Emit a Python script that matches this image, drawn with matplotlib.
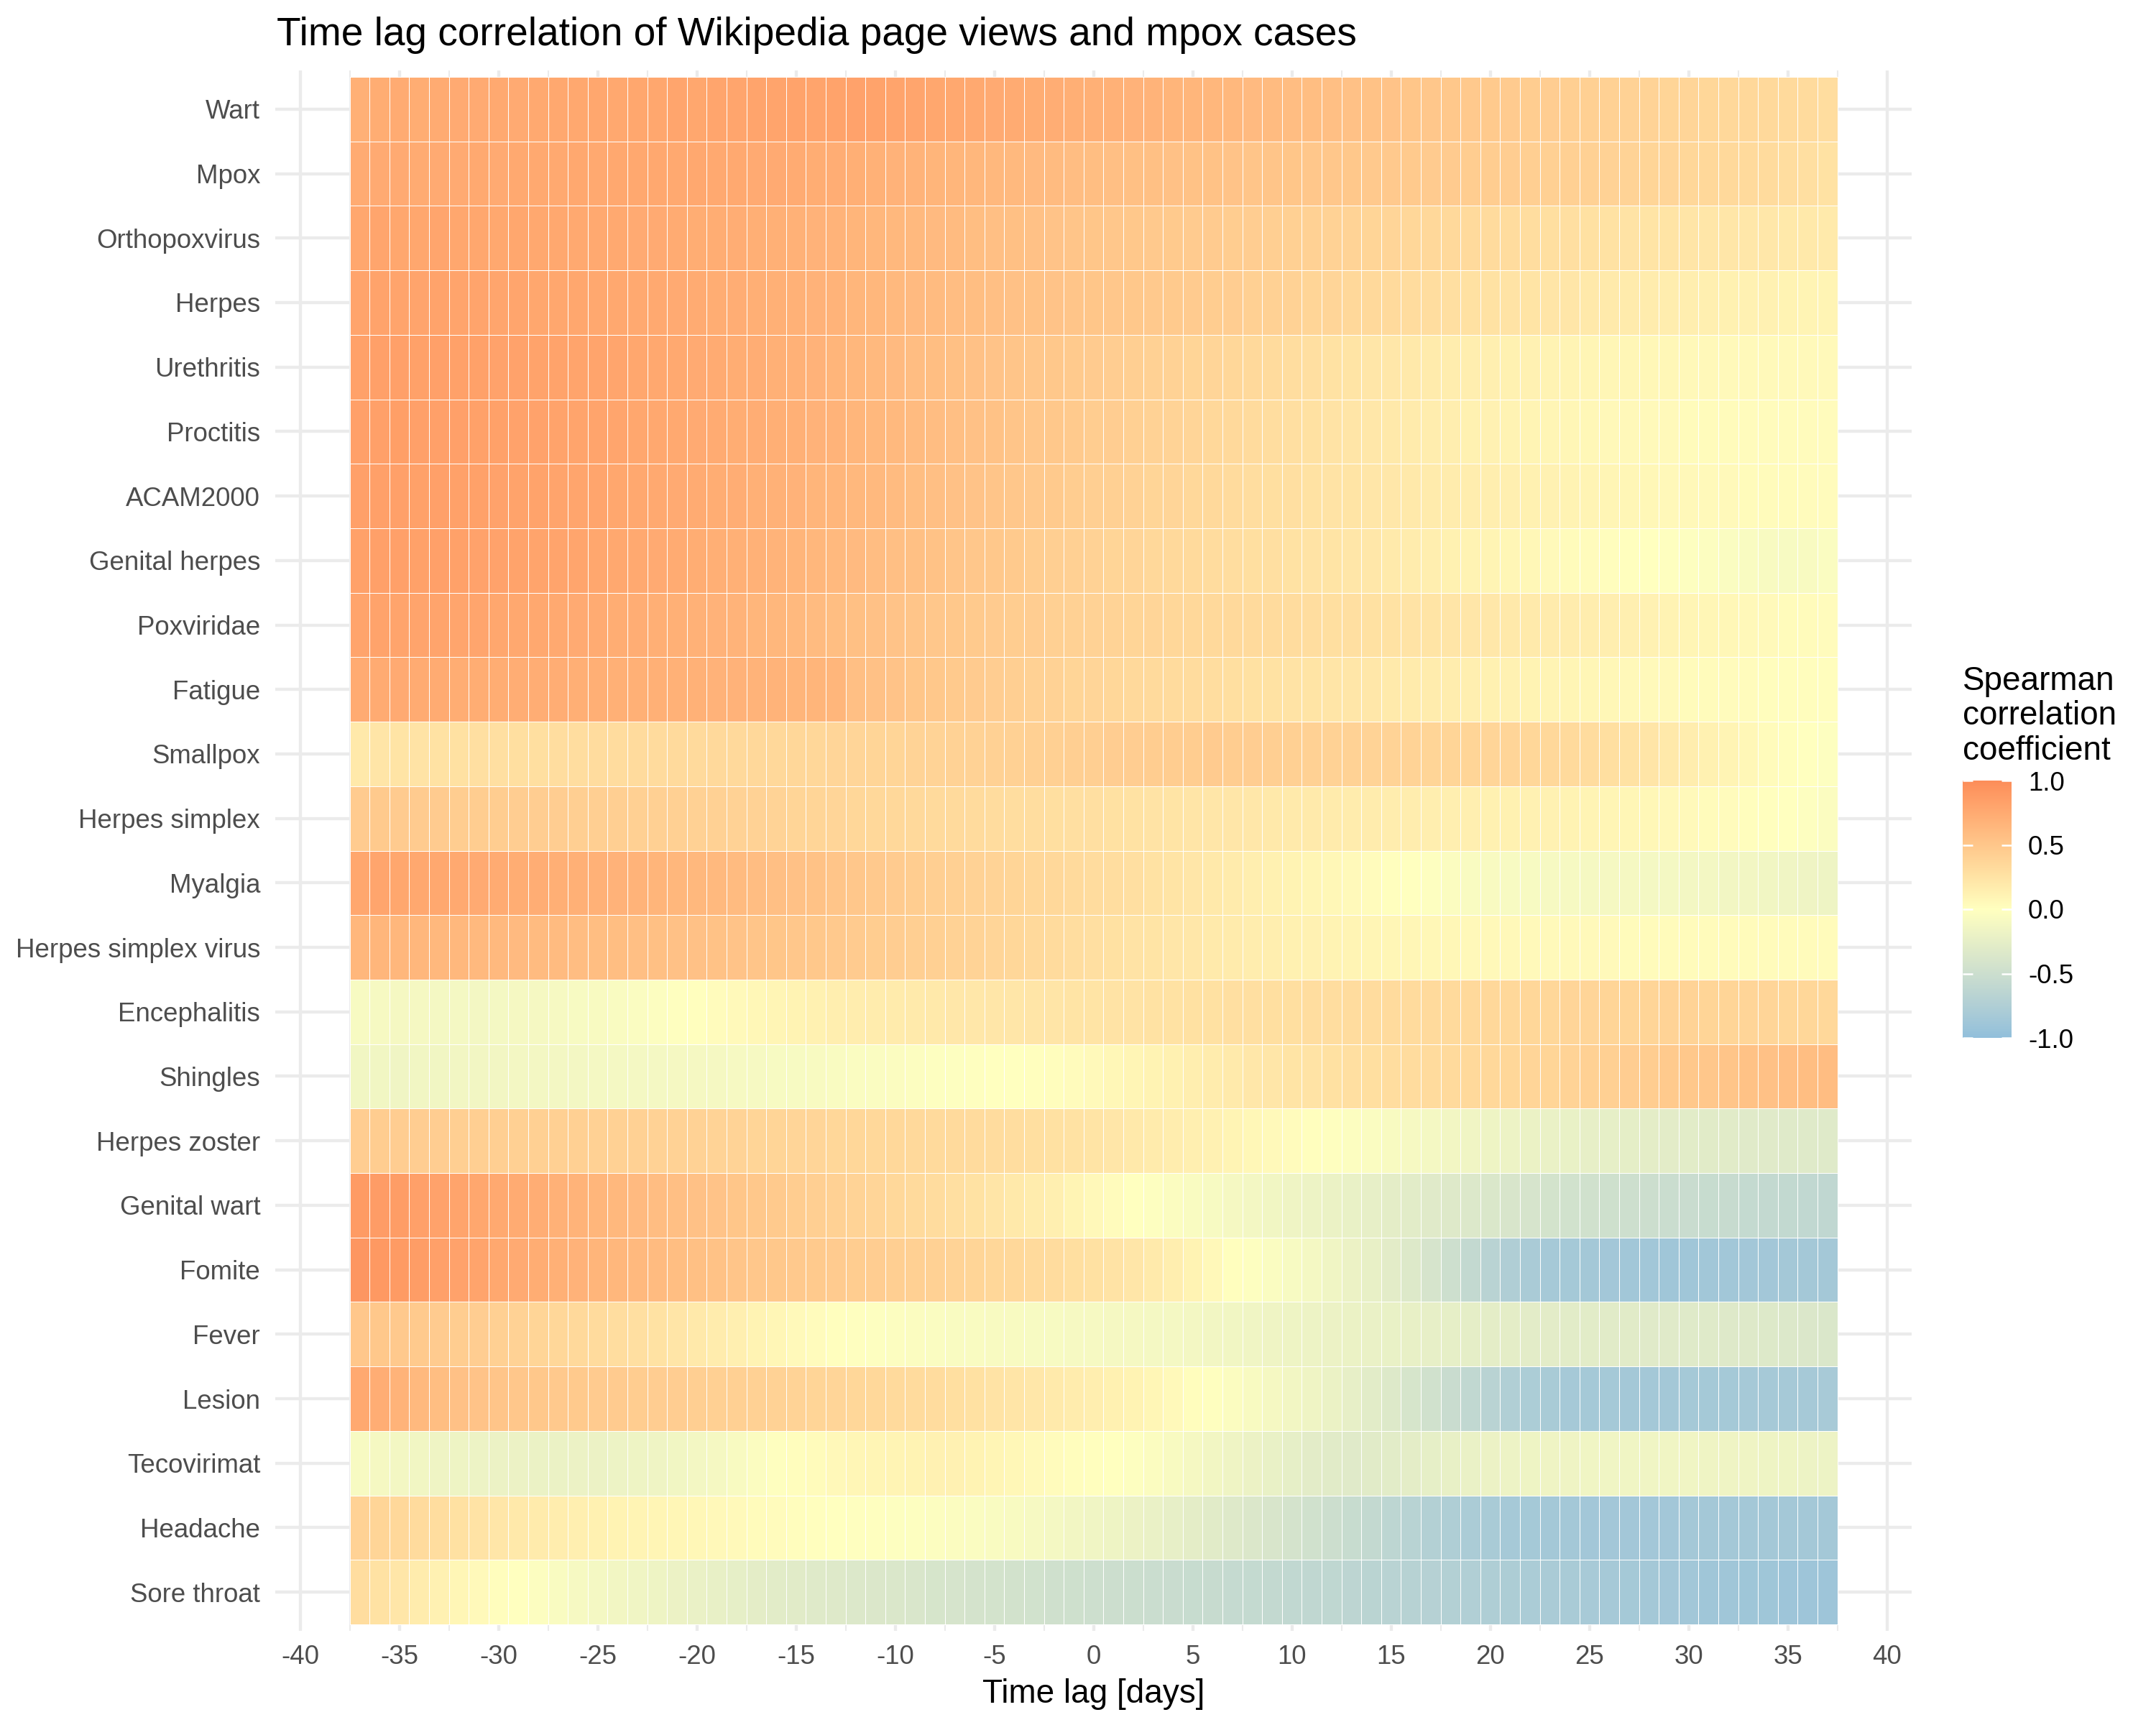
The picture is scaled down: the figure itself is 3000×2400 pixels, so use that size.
import numpy as np
import matplotlib
matplotlib.use("Agg")
import matplotlib.pyplot as plt
from matplotlib.colors import ListedColormap, Normalize

plt.rcParams['font.family'] = ['Liberation Sans', 'DejaVu Sans']

# ---------------- data ----------------
lags = list(range(-37, 38))
x_ticks = [-40, -35, -30, -25, -20, -15, -10, -5, 0, 5, 10, 15, 20, 25, 30, 35, 40]
x_tick_labels = ["-40", "-35", "-30", "-25", "-20", "-15", "-10", "-5", "0", "5",
                 "10", "15", "20", "25", "30", "35", "40"]

pages = ["Wart", "Mpox", "Orthopoxvirus", "Herpes", "Urethritis", "Proctitis",
         "ACAM2000", "Genital herpes", "Poxviridae", "Fatigue", "Smallpox",
         "Herpes simplex", "Myalgia", "Herpes simplex virus", "Encephalitis",
         "Shingles", "Herpes zoster", "Genital wart", "Fomite", "Fever", "Lesion",
         "Tecovirimat", "Headache", "Sore throat"]

wart = [0.70, 0.73, 0.74, 0.73, 0.74, 0.75, 0.75, 0.76, 0.75, 0.76, 0.77, 0.77, 0.78, 0.77, 0.78,
        0.78, 0.79, 0.78, 0.79, 0.79, 0.80, 0.80, 0.81, 0.80, 0.81, 0.82, 0.81, 0.80, 0.79, 0.78,
        0.77, 0.76, 0.75, 0.74, 0.73, 0.72, 0.71, 0.70, 0.69, 0.68, 0.67, 0.66, 0.65, 0.64, 0.63,
        0.61, 0.60, 0.59, 0.58, 0.57, 0.55, 0.54, 0.53, 0.51, 0.50, 0.49, 0.48, 0.47, 0.46, 0.45,
        0.44, 0.43, 0.42, 0.41, 0.40, 0.39, 0.38, 0.37, 0.36, 0.35, 0.35, 0.34, 0.33, 0.32, 0.30]
mpox = [0.74, 0.75, 0.75, 0.74, 0.75, 0.75, 0.76, 0.75, 0.76, 0.76, 0.76, 0.77, 0.76, 0.77, 0.77,
        0.77, 0.76, 0.77, 0.76, 0.76, 0.75, 0.75, 0.74, 0.73, 0.72, 0.71, 0.69, 0.68, 0.67, 0.66,
        0.65, 0.64, 0.63, 0.62, 0.61, 0.60, 0.59, 0.58, 0.57, 0.56, 0.56, 0.55, 0.54, 0.54, 0.53,
        0.52, 0.52, 0.51, 0.50, 0.50, 0.49, 0.48, 0.48, 0.47, 0.46, 0.46, 0.45, 0.45, 0.44, 0.43,
        0.42, 0.42, 0.41, 0.40, 0.39, 0.38, 0.37, 0.36, 0.35, 0.34, 0.33, 0.32, 0.30, 0.28, 0.26]
orthopoxvirus = [0.78, 0.79, 0.78, 0.78, 0.79, 0.78, 0.78, 0.77, 0.78, 0.77, 0.77, 0.76, 0.76, 0.76, 0.75,
                 0.75, 0.74, 0.73, 0.73, 0.72, 0.71, 0.70, 0.69, 0.68, 0.67, 0.66, 0.64, 0.63, 0.62, 0.61,
                 0.60, 0.58, 0.57, 0.56, 0.55, 0.53, 0.52, 0.51, 0.50, 0.49, 0.48, 0.47, 0.46, 0.46, 0.45,
                 0.44, 0.43, 0.42, 0.41, 0.40, 0.39, 0.38, 0.37, 0.36, 0.35, 0.34, 0.33, 0.32, 0.31, 0.30,
                 0.29, 0.28, 0.27, 0.26, 0.25, 0.24, 0.24, 0.23, 0.22, 0.22, 0.21, 0.21, 0.20, 0.20, 0.19]
herpes = [0.80, 0.81, 0.80, 0.80, 0.81, 0.80, 0.80, 0.79, 0.79, 0.78, 0.78, 0.78, 0.77, 0.77, 0.76,
          0.76, 0.75, 0.74, 0.73, 0.72, 0.71, 0.70, 0.69, 0.68, 0.67, 0.65, 0.64, 0.62, 0.61, 0.60,
          0.59, 0.58, 0.57, 0.55, 0.54, 0.53, 0.52, 0.51, 0.50, 0.49, 0.48, 0.47, 0.46, 0.45, 0.44,
          0.42, 0.41, 0.40, 0.38, 0.37, 0.35, 0.34, 0.33, 0.31, 0.30, 0.28, 0.27, 0.26, 0.25, 0.24,
          0.23, 0.22, 0.20, 0.19, 0.18, 0.17, 0.16, 0.15, 0.14, 0.13, 0.12, 0.12, 0.11, 0.10, 0.10]
urethritis = [0.83, 0.84, 0.84, 0.83, 0.84, 0.83, 0.83, 0.82, 0.82, 0.81, 0.81, 0.80, 0.80, 0.79, 0.78,
              0.77, 0.76, 0.75, 0.74, 0.73, 0.72, 0.70, 0.69, 0.68, 0.66, 0.64, 0.62, 0.61, 0.59, 0.58,
              0.56, 0.55, 0.53, 0.52, 0.50, 0.49, 0.47, 0.46, 0.44, 0.43, 0.41, 0.40, 0.38, 0.37, 0.36,
              0.34, 0.32, 0.30, 0.28, 0.26, 0.24, 0.22, 0.21, 0.20, 0.18, 0.16, 0.15, 0.14, 0.13, 0.12,
              0.11, 0.10, 0.09, 0.08, 0.08, 0.07, 0.07, 0.06, 0.06, 0.05, 0.05, 0.05, 0.05, 0.05, 0.05]
proctitis = [0.84, 0.84, 0.85, 0.84, 0.84, 0.84, 0.83, 0.83, 0.82, 0.82, 0.81, 0.80, 0.80, 0.79, 0.78,
             0.77, 0.76, 0.75, 0.74, 0.73, 0.72, 0.71, 0.70, 0.68, 0.67, 0.65, 0.63, 0.62, 0.60, 0.59,
             0.57, 0.55, 0.54, 0.52, 0.50, 0.49, 0.47, 0.45, 0.44, 0.42, 0.40, 0.39, 0.37, 0.35, 0.34,
             0.32, 0.30, 0.28, 0.27, 0.25, 0.23, 0.21, 0.20, 0.18, 0.16, 0.15, 0.13, 0.12, 0.11, 0.10,
             0.09, 0.08, 0.07, 0.06, 0.06, 0.05, 0.05, 0.04, 0.04, 0.04, 0.03, 0.03, 0.03, 0.03, 0.03]
acam2000 = [0.84, 0.84, 0.84, 0.83, 0.84, 0.83, 0.83, 0.82, 0.81, 0.81, 0.80, 0.79, 0.79, 0.78, 0.77,
            0.76, 0.75, 0.74, 0.73, 0.72, 0.70, 0.69, 0.68, 0.66, 0.65, 0.63, 0.62, 0.60, 0.58, 0.57,
            0.55, 0.53, 0.52, 0.50, 0.48, 0.47, 0.45, 0.43, 0.42, 0.40, 0.38, 0.37, 0.35, 0.34, 0.32,
            0.30, 0.29, 0.28, 0.26, 0.25, 0.24, 0.22, 0.21, 0.20, 0.18, 0.17, 0.16, 0.15, 0.14, 0.13,
            0.12, 0.11, 0.10, 0.09, 0.08, 0.07, 0.06, 0.06, 0.05, 0.05, 0.04, 0.04, 0.04, 0.03, 0.03]
genital_herpes = [0.83, 0.84, 0.84, 0.83, 0.84, 0.83, 0.82, 0.82, 0.81, 0.80, 0.80, 0.79, 0.78, 0.77, 0.76,
                  0.75, 0.74, 0.73, 0.71, 0.70, 0.69, 0.67, 0.66, 0.64, 0.62, 0.61, 0.59, 0.57, 0.56, 0.54,
                  0.52, 0.50, 0.49, 0.47, 0.45, 0.43, 0.42, 0.40, 0.38, 0.37, 0.35, 0.34, 0.33, 0.31, 0.30,
                  0.29, 0.28, 0.26, 0.25, 0.24, 0.22, 0.21, 0.19, 0.17, 0.15, 0.13, 0.11, 0.10, 0.08, 0.07,
                  0.05, 0.04, 0.03, 0.02, 0.01, 0.00, -0.01, -0.02, -0.03, -0.05, -0.06, -0.07, -0.08, -0.07, -0.05]
poxviridae = [0.80, 0.81, 0.80, 0.80, 0.80, 0.79, 0.79, 0.78, 0.77, 0.77, 0.76, 0.75, 0.74, 0.73, 0.72,
              0.71, 0.70, 0.69, 0.68, 0.67, 0.65, 0.64, 0.62, 0.60, 0.58, 0.56, 0.55, 0.53, 0.52, 0.50,
              0.49, 0.47, 0.46, 0.45, 0.44, 0.42, 0.41, 0.40, 0.39, 0.38, 0.37, 0.36, 0.35, 0.34, 0.34,
              0.33, 0.32, 0.31, 0.30, 0.29, 0.28, 0.27, 0.26, 0.25, 0.24, 0.23, 0.22, 0.21, 0.20, 0.19,
              0.18, 0.17, 0.16, 0.15, 0.14, 0.12, 0.11, 0.09, 0.08, 0.07, 0.06, 0.05, 0.04, 0.04, 0.03]
fatigue = [0.74, 0.74, 0.75, 0.74, 0.74, 0.73, 0.73, 0.73, 0.72, 0.72, 0.72, 0.71, 0.71, 0.70, 0.70,
           0.70, 0.69, 0.69, 0.68, 0.68, 0.67, 0.67, 0.66, 0.66, 0.65, 0.57, 0.55, 0.53, 0.51, 0.49,
           0.47, 0.46, 0.44, 0.43, 0.41, 0.40, 0.38, 0.37, 0.36, 0.34, 0.33, 0.32, 0.31, 0.30, 0.29,
           0.27, 0.26, 0.25, 0.24, 0.23, 0.22, 0.21, 0.19, 0.18, 0.17, 0.16, 0.14, 0.13, 0.12, 0.11,
           0.10, 0.09, 0.08, 0.07, 0.06, 0.05, 0.05, 0.04, 0.04, 0.03, 0.03, 0.02, 0.02, 0.02, 0.02]
smallpox = [0.20, 0.23, 0.24, 0.25, 0.26, 0.27, 0.28, 0.28, 0.29, 0.29, 0.30, 0.30, 0.31, 0.31, 0.32,
            0.32, 0.33, 0.33, 0.34, 0.34, 0.35, 0.35, 0.36, 0.36, 0.37, 0.37, 0.38, 0.38, 0.39, 0.39,
            0.40, 0.40, 0.41, 0.41, 0.42, 0.42, 0.43, 0.43, 0.44, 0.44, 0.45, 0.45, 0.45, 0.46, 0.45,
            0.44, 0.43, 0.42, 0.41, 0.40, 0.40, 0.39, 0.39, 0.39, 0.38, 0.38, 0.38, 0.37, 0.37, 0.36,
            0.35, 0.33, 0.31, 0.29, 0.26, 0.23, 0.20, 0.16, 0.13, 0.10, 0.07, 0.04, 0.02, 0.00, -0.02]
herpes_simplex = [0.46, 0.47, 0.46, 0.46, 0.46, 0.45, 0.45, 0.45, 0.44, 0.44, 0.44, 0.43, 0.43, 0.43, 0.42,
                  0.42, 0.42, 0.41, 0.41, 0.40, 0.40, 0.39, 0.38, 0.38, 0.37, 0.36, 0.35, 0.35, 0.34, 0.33,
                  0.33, 0.32, 0.31, 0.30, 0.30, 0.29, 0.28, 0.28, 0.27, 0.26, 0.25, 0.24, 0.23, 0.22, 0.22,
                  0.21, 0.20, 0.19, 0.19, 0.18, 0.17, 0.17, 0.16, 0.16, 0.15, 0.14, 0.14, 0.13, 0.13, 0.12,
                  0.12, 0.11, 0.10, 0.09, 0.08, 0.07, 0.06, 0.05, 0.04, 0.03, 0.02, 0.01, 0.00, -0.02, -0.04]
myalgia = [0.78, 0.79, 0.78, 0.77, 0.77, 0.76, 0.75, 0.74, 0.73, 0.72, 0.71, 0.70, 0.69, 0.68, 0.67,
           0.66, 0.64, 0.63, 0.62, 0.60, 0.59, 0.57, 0.55, 0.54, 0.52, 0.50, 0.48, 0.46, 0.45, 0.43,
           0.42, 0.40, 0.39, 0.38, 0.36, 0.35, 0.33, 0.31, 0.30, 0.28, 0.26, 0.24, 0.22, 0.20, 0.18,
           0.15, 0.13, 0.11, 0.09, 0.07, 0.05, 0.03, 0.01, 0.00, -0.02, -0.04, -0.06, -0.07, -0.08, -0.08,
           -0.09, -0.09, -0.10, -0.10, -0.10, -0.11, -0.11, -0.12, -0.12, -0.13, -0.13, -0.14, -0.15, -0.16, -0.17]
herpes_simplex_virus = [0.64, 0.65, 0.64, 0.64, 0.63, 0.63, 0.62, 0.62, 0.61, 0.60, 0.60, 0.59, 0.58, 0.58, 0.57,
                        0.56, 0.55, 0.55, 0.54, 0.53, 0.52, 0.51, 0.50, 0.49, 0.48, 0.46, 0.45, 0.44, 0.43, 0.42,
                        0.40, 0.39, 0.37, 0.36, 0.34, 0.32, 0.30, 0.28, 0.27, 0.25, 0.24, 0.22, 0.21, 0.19, 0.18,
                        0.16, 0.15, 0.13, 0.12, 0.11, 0.10, 0.09, 0.08, 0.08, 0.07, 0.07, 0.06, 0.06, 0.06, 0.05,
                        0.05, 0.05, 0.05, 0.05, 0.04, 0.04, 0.04, 0.04, 0.04, 0.04, 0.04, 0.04, 0.04, 0.04, 0.04]
encephalitis = [-0.08, -0.09, -0.10, -0.10, -0.11, -0.11, -0.12, -0.11, -0.10, -0.10, -0.09, -0.08, -0.07, -0.06, -0.05,
                -0.03, -0.01, 0.01, 0.03, 0.05, 0.07, 0.09, 0.11, 0.13, 0.15, 0.16, 0.17, 0.18, 0.19, 0.20,
                0.21, 0.21, 0.22, 0.22, 0.23, 0.23, 0.24, 0.24, 0.25, 0.25, 0.26, 0.26, 0.27, 0.27, 0.28,
                0.28, 0.29, 0.29, 0.30, 0.30, 0.31, 0.31, 0.32, 0.32, 0.33, 0.33, 0.34, 0.35, 0.35, 0.36,
                0.36, 0.37, 0.37, 0.38, 0.38, 0.38, 0.39, 0.39, 0.38, 0.38, 0.37, 0.37, 0.36, 0.36, 0.35]
shingles = [-0.14, -0.14, -0.15, -0.14, -0.14, -0.13, -0.13, -0.13, -0.12, -0.12, -0.12, -0.12, -0.11, -0.11, -0.11,
            -0.11, -0.10, -0.10, -0.10, -0.09, -0.09, -0.08, -0.08, -0.07, -0.06, -0.05, -0.05, -0.04, -0.03, -0.02,
            -0.02, -0.01, 0.00, 0.00, 0.01, 0.02, 0.03, 0.05, 0.07, 0.09, 0.11, 0.13, 0.15, 0.17, 0.19,
            0.21, 0.22, 0.24, 0.25, 0.27, 0.28, 0.29, 0.30, 0.31, 0.32, 0.33, 0.34, 0.35, 0.36, 0.37,
            0.38, 0.39, 0.41, 0.42, 0.44, 0.45, 0.47, 0.49, 0.50, 0.52, 0.54, 0.55, 0.57, 0.58, 0.59]
herpes_zoster = [0.44, 0.45, 0.44, 0.44, 0.44, 0.43, 0.43, 0.43, 0.42, 0.42, 0.42, 0.42, 0.41, 0.41, 0.41,
                 0.40, 0.40, 0.40, 0.39, 0.39, 0.38, 0.38, 0.37, 0.37, 0.36, 0.36, 0.35, 0.35, 0.34, 0.33,
                 0.33, 0.32, 0.31, 0.30, 0.29, 0.27, 0.26, 0.24, 0.22, 0.20, 0.18, 0.16, 0.14, 0.12, 0.10,
                 0.07, 0.05, 0.03, 0.01, -0.01, -0.03, -0.05, -0.07, -0.09, -0.11, -0.13, -0.15, -0.17, -0.18, -0.20,
                 -0.21, -0.22, -0.24, -0.25, -0.26, -0.27, -0.28, -0.29, -0.30, -0.30, -0.31, -0.31, -0.32, -0.32, -0.32]
genital_wart = [0.88, 0.87, 0.86, 0.84, 0.82, 0.80, 0.78, 0.76, 0.74, 0.72, 0.69, 0.67, 0.65, 0.63, 0.61,
                0.59, 0.57, 0.55, 0.53, 0.51, 0.49, 0.47, 0.45, 0.43, 0.41, 0.39, 0.37, 0.35, 0.33, 0.31,
                0.28, 0.26, 0.23, 0.20, 0.17, 0.14, 0.10, 0.06, 0.03, 0.00, -0.02, -0.04, -0.06, -0.08, -0.10,
                -0.12, -0.14, -0.16, -0.18, -0.20, -0.22, -0.24, -0.27, -0.29, -0.31, -0.33, -0.35, -0.37, -0.39, -0.41,
                -0.43, -0.45, -0.46, -0.48, -0.49, -0.50, -0.52, -0.53, -0.54, -0.55, -0.57, -0.58, -0.59, -0.60, -0.61]
fomite = [0.92, 0.90, 0.88, 0.86, 0.84, 0.82, 0.80, 0.77, 0.75, 0.73, 0.70, 0.68, 0.66, 0.64, 0.62,
          0.60, 0.58, 0.56, 0.54, 0.52, 0.50, 0.49, 0.48, 0.47, 0.46, 0.45, 0.44, 0.43, 0.42, 0.41,
          0.39, 0.38, 0.36, 0.35, 0.33, 0.31, 0.29, 0.27, 0.25, 0.22, 0.19, 0.15, 0.11, 0.06, 0.01,
          -0.02, -0.05, -0.08, -0.11, -0.15, -0.19, -0.23, -0.28, -0.34, -0.41, -0.49, -0.58, -0.67, -0.75, -0.80,
          -0.83, -0.84, -0.85, -0.86, -0.87, -0.87, -0.88, -0.88, -0.87, -0.87, -0.86, -0.86, -0.85, -0.85, -0.85]
fever = [0.50, 0.49, 0.48, 0.47, 0.46, 0.45, 0.44, 0.42, 0.40, 0.38, 0.36, 0.34, 0.32, 0.30, 0.28,
         0.26, 0.23, 0.20, 0.17, 0.14, 0.11, 0.08, 0.05, 0.03, 0.01, -0.01, -0.02, -0.03, -0.04, -0.05,
         -0.06, -0.06, -0.07, -0.07, -0.08, -0.08, -0.09, -0.09, -0.10, -0.10, -0.11, -0.11, -0.12, -0.13, -0.14,
         -0.15, -0.16, -0.17, -0.18, -0.19, -0.20, -0.21, -0.22, -0.23, -0.24, -0.25, -0.26, -0.27, -0.27, -0.28,
         -0.28, -0.29, -0.29, -0.30, -0.30, -0.31, -0.31, -0.32, -0.32, -0.33, -0.33, -0.34, -0.35, -0.36, -0.37]
lesion = [0.76, 0.72, 0.67, 0.62, 0.58, 0.55, 0.53, 0.52, 0.50, 0.49, 0.48, 0.47, 0.46, 0.46, 0.45,
          0.44, 0.44, 0.43, 0.42, 0.42, 0.41, 0.40, 0.39, 0.38, 0.37, 0.36, 0.35, 0.33, 0.32, 0.31,
          0.29, 0.27, 0.25, 0.23, 0.21, 0.19, 0.17, 0.15, 0.13, 0.11, 0.08, 0.05, 0.02, -0.01, -0.04,
          -0.07, -0.10, -0.13, -0.16, -0.20, -0.24, -0.29, -0.34, -0.40, -0.46, -0.53, -0.60, -0.67, -0.74, -0.78,
          -0.81, -0.83, -0.84, -0.84, -0.85, -0.85, -0.85, -0.84, -0.84, -0.84, -0.83, -0.83, -0.83, -0.83, -0.82]
tecovirimat = [-0.08, -0.10, -0.12, -0.14, -0.16, -0.17, -0.18, -0.19, -0.19, -0.20, -0.20, -0.19, -0.19, -0.18, -0.17,
               -0.16, -0.14, -0.12, -0.10, -0.07, -0.04, -0.01, 0.02, 0.04, 0.06, 0.08, 0.09, 0.10, 0.11, 0.12,
               0.12, 0.11, 0.09, 0.07, 0.05, 0.03, 0.02, 0.01, 0.00, -0.02, -0.04, -0.07, -0.10, -0.13, -0.16,
               -0.19, -0.22, -0.25, -0.28, -0.30, -0.31, -0.30, -0.29, -0.27, -0.25, -0.23, -0.21, -0.19, -0.18, -0.17,
               -0.16, -0.16, -0.15, -0.15, -0.15, -0.15, -0.15, -0.15, -0.16, -0.16, -0.16, -0.17, -0.17, -0.18, -0.18]
headache = [0.40, 0.38, 0.35, 0.32, 0.30, 0.27, 0.25, 0.22, 0.20, 0.18, 0.16, 0.14, 0.13, 0.11, 0.10,
            0.09, 0.08, 0.07, 0.06, 0.05, 0.04, 0.03, 0.02, 0.01, 0.00, -0.01, -0.01, -0.02, -0.02, -0.03,
            -0.04, -0.05, -0.06, -0.07, -0.09, -0.11, -0.13, -0.15, -0.17, -0.19, -0.21, -0.24, -0.27, -0.30, -0.33,
            -0.36, -0.39, -0.42, -0.46, -0.50, -0.54, -0.58, -0.63, -0.68, -0.72, -0.76, -0.79, -0.81, -0.83, -0.84,
            -0.85, -0.85, -0.86, -0.86, -0.86, -0.86, -0.86, -0.85, -0.85, -0.85, -0.85, -0.85, -0.85, -0.85, -0.85]
sore_throat = [0.30, 0.26, 0.22, 0.17, 0.12, 0.08, 0.05, 0.02, 0.00, -0.03, -0.06, -0.09, -0.11, -0.13, -0.15,
               -0.17, -0.19, -0.21, -0.23, -0.25, -0.27, -0.29, -0.30, -0.32, -0.33, -0.35, -0.36, -0.37, -0.38, -0.40,
               -0.41, -0.42, -0.43, -0.44, -0.45, -0.47, -0.48, -0.49, -0.50, -0.51, -0.52, -0.53, -0.54, -0.55, -0.56,
               -0.57, -0.58, -0.60, -0.61, -0.62, -0.64, -0.66, -0.67, -0.69, -0.70, -0.72, -0.74, -0.76, -0.77, -0.79,
               -0.80, -0.81, -0.82, -0.83, -0.84, -0.85, -0.86, -0.87, -0.88, -0.88, -0.89, -0.89, -0.90, -0.90, -0.90]

series = [wart, mpox, orthopoxvirus, herpes, urethritis, proctitis, acam2000,
          genital_herpes, poxviridae, fatigue, smallpox, herpes_simplex, myalgia,
          herpes_simplex_virus, encephalitis, shingles, herpes_zoster, genital_wart,
          fomite, fever, lesion, tecovirimat, headache, sore_throat]

legend_breaks = [-1.0, -0.5, 0.0, 0.5, 1.0]
legend_labels = ["-1.0", "-0.5", "0.0", "0.5", "1.0"]

# ---------------- colour scale (Lab interpolation like ggplot gradient2) ----------------
LOW, MID, HIGH = "#91bfdb", "#ffffbf", "#fc8d59"
_M = np.array([[0.4124564, 0.3575761, 0.1804375],
               [0.2126729, 0.7151522, 0.0721750],
               [0.0193339, 0.1191920, 0.9503041]])
_W = np.array([0.95047, 1.0, 1.08883])


def hex2rgb(h):
    h = h.lstrip('#')
    return np.array([int(h[i:i + 2], 16) / 255 for i in (0, 2, 4)])


def rgb2lab(rgb):
    lin = np.where(rgb <= 0.04045, rgb / 12.92, ((rgb + 0.055) / 1.055) ** 2.4)
    xyz = _M @ lin / _W
    d = 6 / 29
    f = np.where(xyz > d ** 3, np.cbrt(xyz), xyz / (3 * d * d) + 4 / 29)
    return np.array([116 * f[1] - 16, 500 * (f[0] - f[1]), 200 * (f[1] - f[2])])


def lab2rgb(lab):
    L, a, b = lab
    fy = (L + 16) / 116
    fx = fy + a / 500
    fz = fy - b / 200
    d = 6 / 29
    f = np.array([fx, fy, fz])
    xyz = np.where(f > d, f ** 3, 3 * d * d * (f - 4 / 29)) * _W
    lin = np.linalg.solve(_M, xyz)
    lin = np.clip(lin, 0, 1)
    rgb = np.where(lin <= 0.0031308, 12.92 * lin, 1.055 * lin ** (1 / 2.4) - 0.055)
    return np.clip(rgb, 0, 1)


lab_lo, lab_mid, lab_hi = (rgb2lab(hex2rgb(c)) for c in (LOW, MID, HIGH))
cols = []
for v in np.linspace(-1, 1, 513):
    if v <= 0:
        t = v + 1
        lab = lab_lo + (lab_mid - lab_lo) * t
    else:
        lab = lab_mid + (lab_hi - lab_mid) * v
    cols.append(lab2rgb(lab))
cmap = ListedColormap(cols)
norm = Normalize(-1, 1)

# ---------------- figure ----------------
W, H = 3000, 2400
fig = plt.figure(figsize=(10, 8), dpi=300)
fig.patch.set_facecolor("white")

pl, pr, pt, pb = 383, 2660, 98, 2269
ax = fig.add_axes([pl / W, 1 - pb / H, (pr - pl) / W, (pb - pt) / H])

n = len(pages)
Z = np.array(series[::-1])
x_edges = np.arange(-37.5, 38.5, 1.0)
y_edges = np.arange(-0.5, n + 0.5, 1.0)
mesh = ax.pcolormesh(x_edges, y_edges, Z, cmap=cmap, norm=norm,
                     edgecolors="white", linewidth=0.22, zorder=2)

ax.set_xlim(-41.25, 41.25)
ax.set_ylim(-0.6, n - 1 + 0.6)
ax.set_xticks(x_ticks)
ax.set_xticklabels(x_tick_labels)
ax.set_xticks(np.arange(-37.5, 40, 5), minor=True)
ax.set_yticks(range(n))
ax.set_yticklabels(pages[::-1])

grid_c = "#ebebeb"
ax.grid(which="major", color=grid_c, linewidth=1.05, zorder=0)
ax.grid(which="minor", axis="x", color=grid_c, linewidth=0.5, zorder=0)
ax.set_axisbelow(True)
for s in ax.spines.values():
    s.set_visible(False)
ax.tick_params(which="both", length=0)
ax.tick_params(axis="x", pad=4.5, labelsize=8.8, labelcolor="#4d4d4d")
ax.tick_params(axis="y", pad=5.0, labelsize=8.8, labelcolor="#4d4d4d")

ax.set_xlabel("Time lag [days]", fontsize=11, color="black", labelpad=3)

fig.text(385 / W, 1 - 63 / H, "Time lag correlation of Wikipedia page views and mpox cases",
         fontsize=13.2, color="black", ha="left", va="baseline")

# ---------------- legend (colourbar) ----------------
cb_l, cb_r, cb_t, cb_b = 2731, 2799, 1086, 1444
cax = fig.add_axes([cb_l / W, 1 - cb_b / H, (cb_r - cb_l) / W, (cb_b - cb_t) / H])
cbar = fig.colorbar(mesh, cax=cax, ticks=legend_breaks)
cbar.outline.set_visible(False)
cbar.ax.set_yticklabels(legend_labels)
cbar.ax.tick_params(length=0, pad=5.5, labelsize=8.8, labelcolor="black")
for b in legend_breaks:
    cax.plot([0, 0.2], [b, b], color="white", linewidth=0.6, transform=cax.get_yaxis_transform(),
             solid_capstyle="butt", zorder=5)
    cax.plot([0.8, 1.0], [b, b], color="white", linewidth=0.6, transform=cax.get_yaxis_transform(),
             solid_capstyle="butt", zorder=5)

for txt, base in zip(["Spearman", "correlation", "coefficient"], [960, 1008.5, 1057]):
    fig.text(cb_l / W, 1 - base / H, txt, fontsize=11, color="black",
             ha="left", va="baseline")

fig.savefig("out.png", dpi=300, facecolor="white")
